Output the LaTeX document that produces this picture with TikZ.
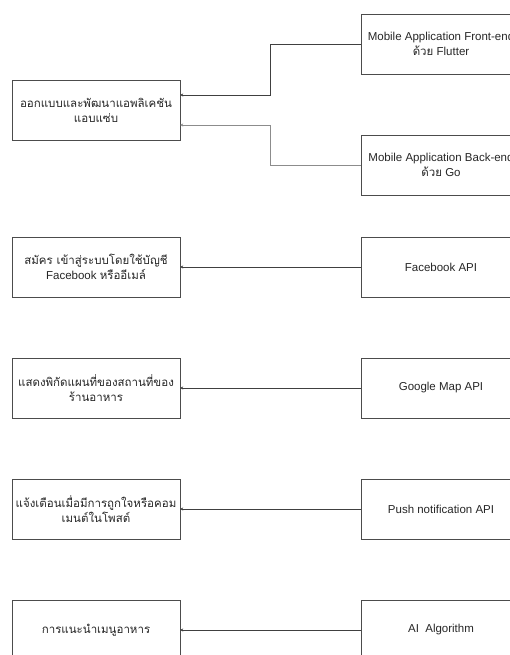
\documentclass[tikz,border=0pt]{standalone}
\usepackage{fontspec}
\setmainfont{Liberation Sans}
\newfontfamily\thai[Script=Thai]{Loma}
\usetikzlibrary{arrows.meta}

\begin{document}
\begin{tikzpicture}
  [x=1pt, y=-1pt,
   every node/.style={font=\fontsize{11.5}{15}\selectfont, align=center, text=black!85},
   feature/.style={draw=black!70, minimum width=168pt, minimum height=60pt, inner sep=0pt},
   tool/.style={draw=black!70, minimum width=160pt, minimum height=60pt, inner sep=0pt},
   conn/.style={draw=black!75, line width=0.6pt, -{Stealth[length=3pt,width=3pt]}}]
  \useasboundingbox (0,0) rectangle (510,655);
  \clip (0,0) rectangle (510,655);
  % left: features
  \node[feature] (app)    at (96,110) {{\thai ออกแบบและพัฒนาแอพลิเคชัน}\\{\thai แอบแซ่บ}};
  \node[feature] (login)  at (96,267) {{\thai สมัคร เข้าสู่ระบบโดยใช้บัญชี}\\Facebook {\thai หรืออีเมล์}};
  \node[feature] (map)    at (96,388) {{\thai แสดงพิกัดแผนที่ของสถานที่ของ}\\{\thai ร้านอาหาร}};
  \node[feature] (notify) at (96,509) {{\thai แจ้งเตือนเมื่อมีการถูกใจหรือคอม}\\{\thai เมนต์ในโพสต์}};
  \node[feature] (menu)   at (96,630) {\thai การแนะนำเมนูอาหาร};
  % right: tools
  \node[tool] (front)  at (441,44)  {Mobile Application Front-end\\{\thai ด้วย} Flutter};
  \node[tool] (back)   at (441,165) {Mobile Application Back-end\\{\thai ด้วย} Go};
  \node[tool] (fbapi)  at (441,267) {Facebook API};
  \node[tool] (mapapi) at (441,388) {Google Map API};
  \node[tool] (push)   at (441,509) {Push notification API};
  \node[tool] (ai)     at (441,630) {AI~~Algorithm};
  % connectors
  \draw[conn] (front.west) -- ++(-91,0) |- ([yshift=15pt]app.east);
  \draw[conn, draw=black!45] (back.west) -- ++(-91,0) |- ([yshift=-15pt]app.east);
  \draw[conn] (fbapi) -- (login);
  \draw[conn] (mapapi) -- (map);
  \draw[conn] (push) -- (notify);
  \draw[conn] (ai) -- (menu);
\end{tikzpicture}
\end{document}
